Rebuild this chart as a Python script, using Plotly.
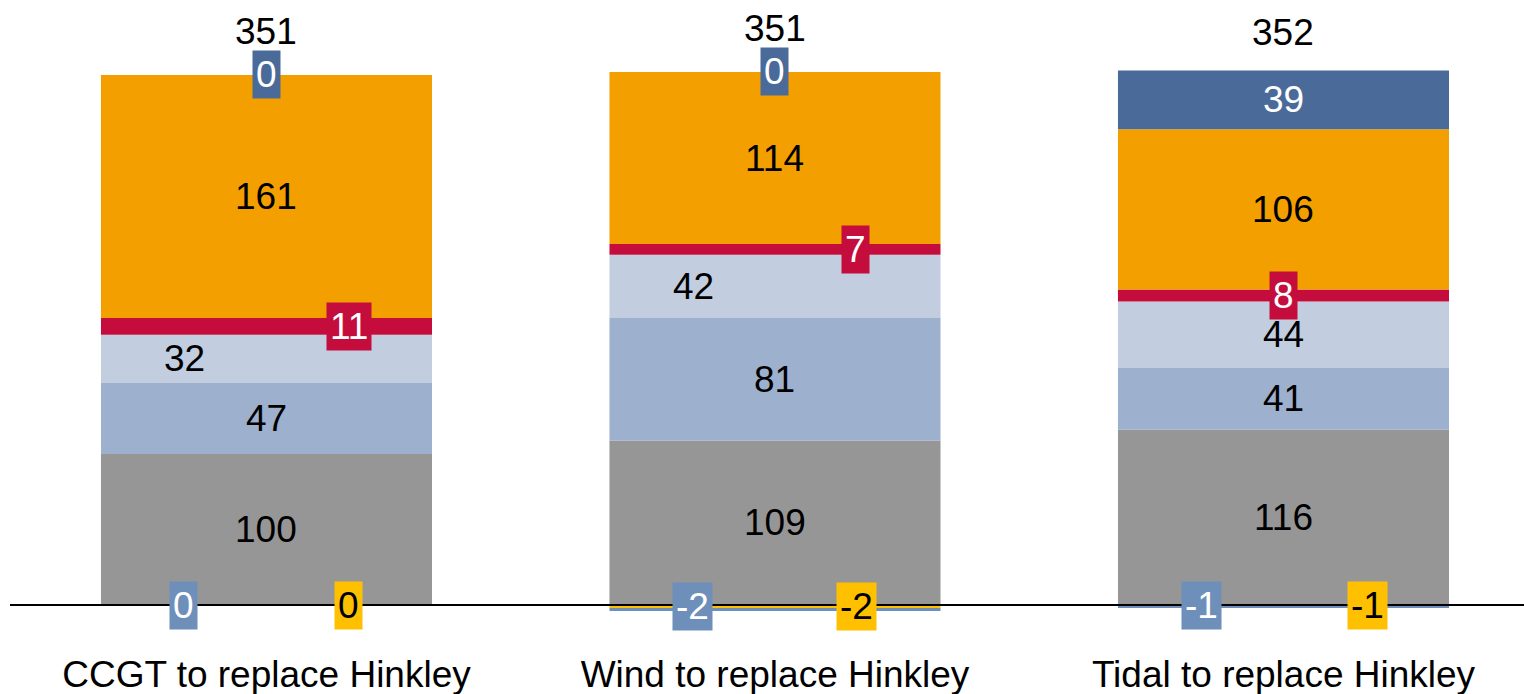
import plotly.graph_objects as go

# Categories and stacked series values
categories = ["CCGT to replace Hinkley", "Wind to replace Hinkley", "Tidal to replace Hinkley"]
gray_vals = [100, 109, 116]
midblue_vals = [47, 81, 41]
pale_vals = [32, 42, 44]
red_vals = [11, 7, 8]
orange_vals = [161, 114, 106]
darkblue_vals = [0, 0, 39]
negblue_vals = [0, -2, -1]
yellow_vals = [0, -2, -1]
totals = [351, 351, 352]

FONT = "Liberation Sans, Arial, sans-serif"
FS = 37
x = [0, 1, 2]
BAR_W = 0.651

# (values, bar colour, label colour, label box colour or None, label x shift per bar, below-axis?)
series = [
    (gray_vals, "#969696", "black", None, [0, 0, 0], False),
    (midblue_vals, "#9db0ce", "black", None, [0, 0, 0], False),
    (pale_vals, "#c2cde0", "black", None, [-82, -81, 0], False),
    (red_vals, "#c40d3c", "white", "#c40d3c", [83, 81, 0], False),
    (orange_vals, "#f39f00", "black", None, [0, 0, 0], False),
    (darkblue_vals, "#4a6b9a", "white", "#4a6b9a", [0, 0, 0], False),
    (yellow_vals, "#ffc000", "black", "#ffc000", [82, 82, 84], True),
    (negblue_vals, "#6f8fbb", "white", "#6f8fbb", [-83, -82, -82], True),
]

fig = go.Figure()
annotations = []
pos_base = [0.0, 0.0, 0.0]

for vals, color, tcol, box, shifts, below in series:
    fig.add_trace(go.Bar(x=x, y=vals, width=BAR_W, marker=dict(color=color, line=dict(width=0)),
                         showlegend=False, hoverinfo="skip"))
    for i, v in enumerate(vals):
        if below:
            mid = v / 2
        else:
            mid = pos_base[i] + v / 2
            pos_base[i] += v
        ann = dict(x=x[i], y=mid, xref="x", yref="y", text=str(v), showarrow=False,
                   xshift=shifts[i], font=dict(family=FONT, size=FS, color=tcol),
                   xanchor="center", yanchor="middle")
        if box is not None:
            ann.update(bgcolor=box, borderpad=3)
        annotations.append(ann)

# Totals above each stack
total_shift = [43, 43, 38]
for i, t in enumerate(totals):
    annotations.append(dict(x=x[i], y=pos_base[i], xref="x", yref="y", text=str(t), showarrow=False,
                            yshift=total_shift[i], font=dict(family=FONT, size=FS, color="black"),
                            xanchor="center", yanchor="middle"))

PX_PER_UNIT = 1.51
y_top = 605 / PX_PER_UNIT
y_bot = -(640 - 605) / PX_PER_UNIT

fig.update_layout(
    barmode="relative",
    width=1524, height=694,
    margin=dict(l=10, r=0, t=0, b=54),
    paper_bgcolor="white", plot_bgcolor="white",
    annotations=annotations,
    xaxis=dict(range=[-0.5044, 2.473], tickvals=x, ticktext=categories, showgrid=False,
               zeroline=False, showline=False, ticks="", ticklabelstandoff=9, automargin=False,
               tickfont=dict(family=FONT, size=FS, color="black")),
    yaxis=dict(range=[y_bot, y_top], visible=False, showgrid=False, zeroline=False,
               automargin=False),
    shapes=[dict(type="line", xref="paper", yref="y", x0=0, x1=1, y0=0, y1=0,
                 line=dict(color="black", width=2), layer="above")],
)

fig.write_html("out.html")
